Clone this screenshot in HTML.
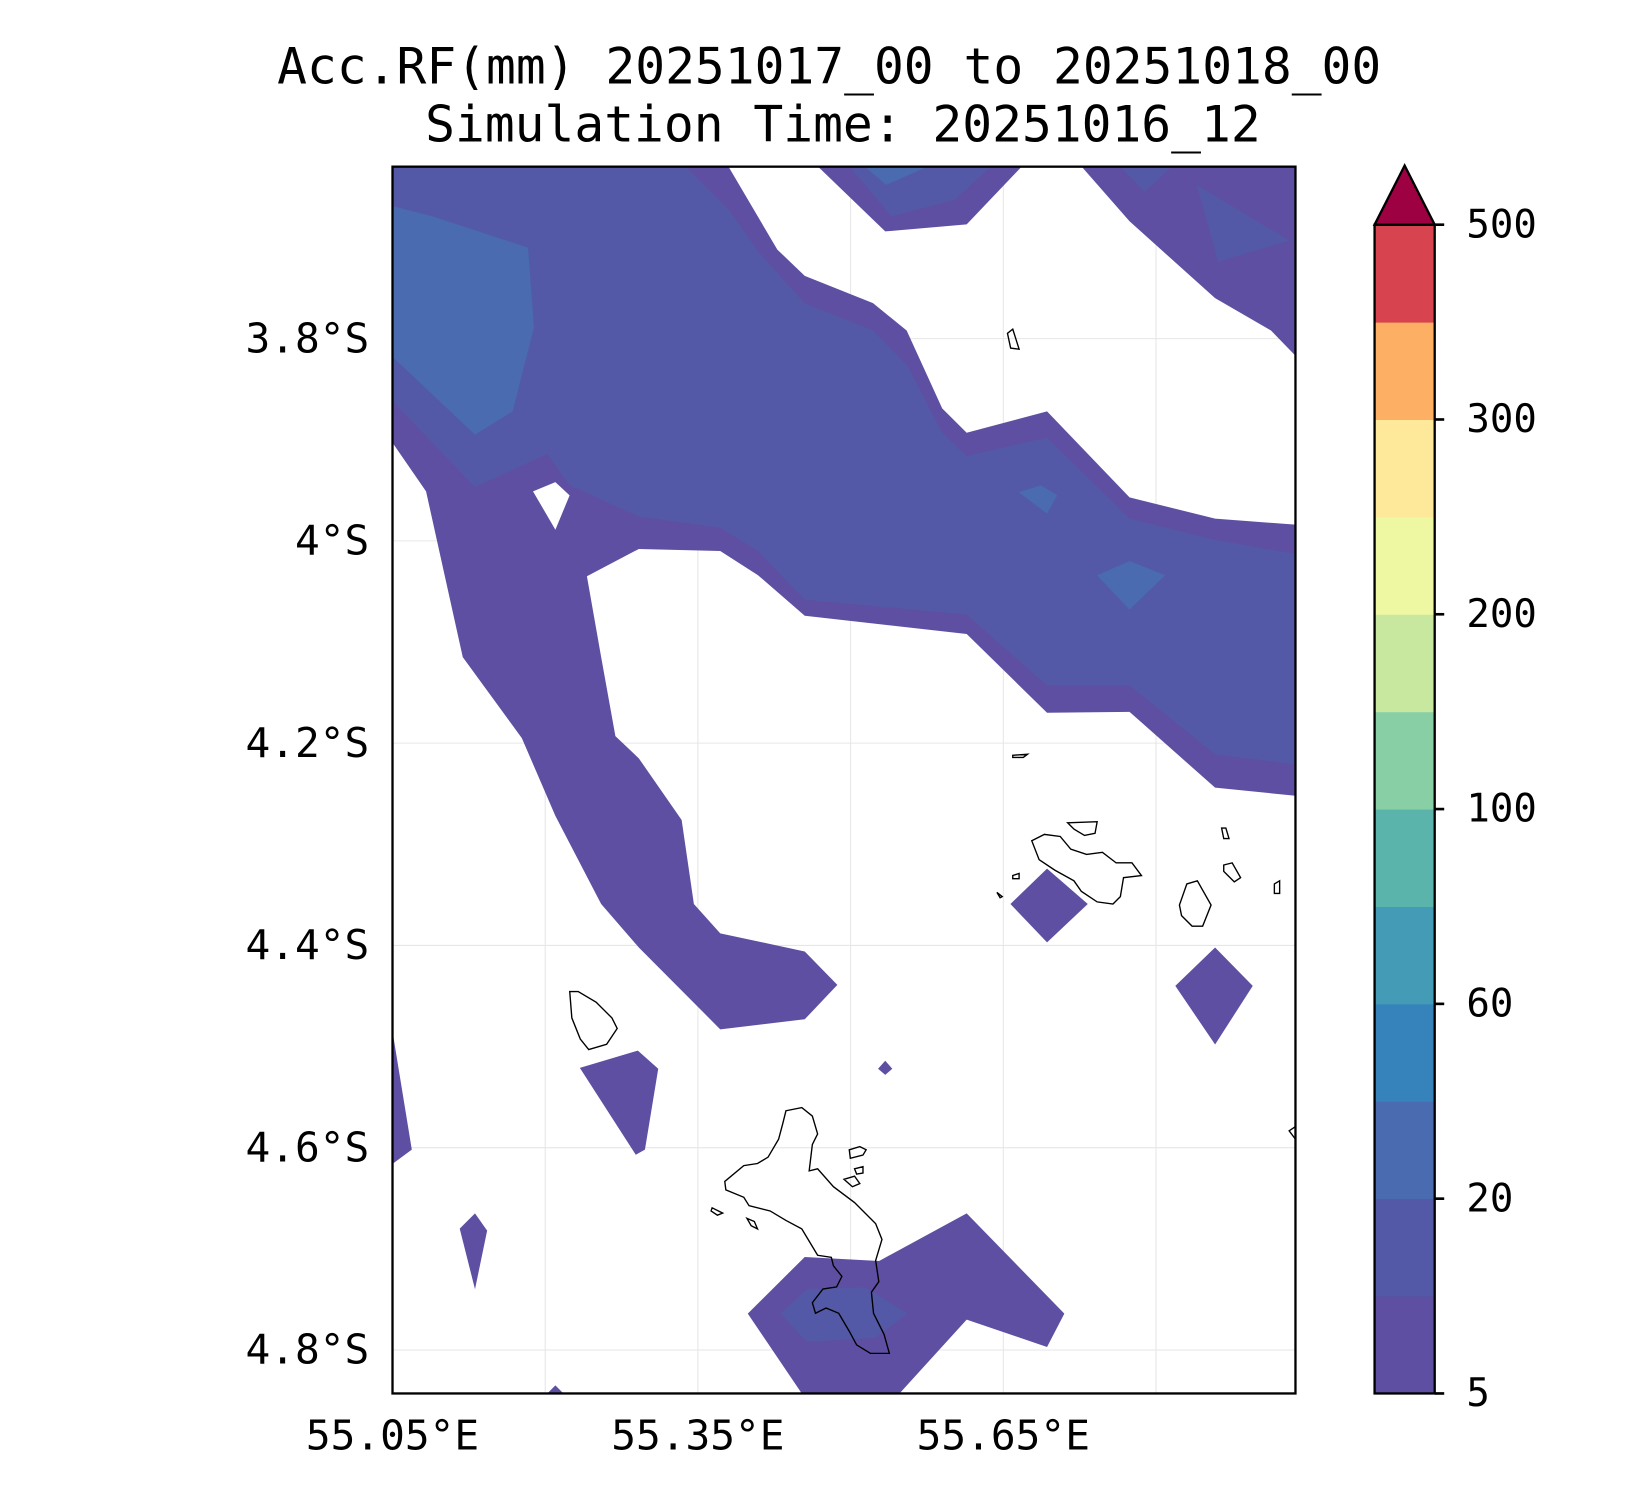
<!DOCTYPE html>
<html><head><meta charset="utf-8"><style>
html,body{margin:0;padding:0;background:#fff;}
svg{display:block;}
text{font-family:"DejaVu Sans Mono","Liberation Mono",monospace;fill:#000;}
</style></head><body>
<svg id="chart" xmlns="http://www.w3.org/2000/svg" width="1650" height="1500" viewBox="0 0 1564 1422">
<g id="title">
<text x="786" y="79" font-size="47" text-anchor="middle">Acc.RF(mm) 20251017_00 to 20251018_00</text>
<text x="799" y="134" font-size="47" text-anchor="middle">Simulation Time: 20251016_12</text>
</g>
<clipPath id="pc"><rect x="372" y="158" width="856" height="1163"/></clipPath>
<g id="grid"></g>
<g id="fills" clip-path="url(#pc)"></g>
<path id="coast" fill="none" stroke="#000" stroke-width="1.3" clip-path="url(#pc)" d="M745,1053 L760,1050 L770,1058 L775,1075 L770,1085 L767,1110 L775,1108 L790,1125 L810,1140 L830,1160 L836,1175 L830,1195 L833,1215 L826,1225 L828,1245 L838,1265 L843,1283 L825,1283 L812,1275 L805,1262 L795,1245 L783,1240 L773,1245 L770,1235 L780,1222 L793,1220 L798,1210 L790,1200 L788,1192 L775,1190 L760,1165 L745,1157 L730,1148 L710,1143 L705,1135 L688,1128 L687,1120 L705,1105 L718,1103 L728,1097 L738,1080 L742,1065 Z
M978,797 L990,791 L1005,793 L1015,805 L1030,810 L1045,808 L1058,818 L1073,818 L1082,830 L1065,832 L1062,850 L1055,857 L1040,855 L1025,845 L1018,835 L1000,825 L985,815 Z
M540,940 L548,940 L565,950 L580,965 L585,975 L575,990 L558,995 L550,985 L542,965 Z
M1012,780 L1040,779 L1038,790 L1028,792 L1018,786 Z
M1125,838 L1135,835 L1148,858 L1140,878 L1130,878 L1120,868 L1118,858 Z
M1160,820 L1168,818 L1176,832 L1170,836 L1160,826 Z
M955,316 L960,312 L966,331 L958,330 Z
M960,716 L974,715 L970,718 L960,718 Z
M960,830 L966,828 L966,833 L960,833 Z
M945,846 L950,850 L948,851 Z
M1158,785 L1162,785 L1165,795 L1160,795 Z
M1208,838 L1213,835 L1213,847 L1208,847 Z
M805,1090 L815,1087 L821,1090 L818,1095 L806,1098 Z
M800,1118 L810,1115 L815,1122 L808,1125 Z
M810,1108 L818,1106 L818,1112 L812,1113 Z
M708,1155 L715,1158 L718,1165 L712,1162 Z
M675,1145 L685,1150 L680,1152 L674,1148 Z
M1222,1072 L1228,1068 L1228,1080 Z"/>
<rect x="372" y="158" width="856" height="1163" fill="none" stroke="#000" stroke-width="2.2"/>
<g id="axes"></g>
<g id="cbar"></g>
</svg>
<script>
const NS="http://www.w3.org/2000/svg";
// map extent
const lonMin=55.05, lonMax=55.937, latMin=3.630, latMax=4.843;
// axis ticks
const lonTicks=[55.05,55.35,55.65];
const lonTickLabels=["55.05°E","55.35°E","55.65°E"];
const lonGrid=[55.05,55.20,55.35,55.50,55.65,55.80];
const latTicks=[3.8,4.0,4.2,4.4,4.6,4.8];
const latTickLabels=["3.8°S","4°S","4.2°S","4.4°S","4.6°S","4.8°S"];
// colorbar levels & colours
const levels=[5,10,20,40,60,80,100,150,200,250,300,400,500];
const levelColors=["#5e4fa2","#5359a6","#4a6bb0","#3682ba","#439bb5","#5ab4ac","#89cfa5","#c7e89e","#eef7a2","#fee99a","#fdb063","#d7434f"];
const extendColor="#9e0142";
const cbarTicks=[5,20,60,100,200,300,500];
// contour polygons [lon,lat(S)] by level index
const l1Main=[[55.050,3.630],[55.380,3.630],[55.428,3.712],[55.455,3.738],[55.522,3.765],[55.555,3.792],[55.590,3.869],[55.614,3.893],[55.693,3.872],[55.774,3.957],[55.858,3.978],[55.937,3.984],[55.937,4.252],[55.858,4.244],[55.774,4.169],[55.693,4.170],[55.614,4.092],[55.455,4.074],[55.409,4.034],[55.372,4.010],[55.292,4.008],[55.241,4.035],[55.255,4.115],[55.269,4.193],[55.292,4.215],[55.334,4.276],[55.346,4.359],[55.372,4.388],[55.455,4.406],[55.487,4.439],[55.455,4.473],[55.372,4.483],[55.292,4.402],[55.255,4.359],[55.210,4.272],[55.177,4.195],[55.119,4.115],[55.083,3.951],[55.050,3.903]];
const l1TopMid=[[55.468,3.630],[55.668,3.630],[55.614,3.687],[55.534,3.694]];
const l1TopRight=[[55.727,3.630],[55.937,3.630],[55.937,3.817],[55.913,3.792],[55.858,3.760],[55.774,3.684]];
const l1LeftEdge=[[55.050,4.485],[55.069,4.602],[55.050,4.616]];
const l1SmallA=[[55.116,4.680],[55.131,4.665],[55.143,4.682],[55.131,4.740]];
const l1SmallB=[[55.234,4.521],[55.291,4.504],[55.311,4.522],[55.298,4.602],[55.289,4.607]];
const l1SmallC=[[55.657,4.359],[55.693,4.324],[55.733,4.359],[55.693,4.397]];
const l1SmallD=[[55.819,4.440],[55.858,4.402],[55.895,4.440],[55.858,4.498]];
const l1SmallE=[[55.527,4.522],[55.534,4.514],[55.541,4.522],[55.534,4.528]];
const l1Bottom=[[55.399,4.764],[55.455,4.708],[55.528,4.712],[55.614,4.665],[55.710,4.764],[55.693,4.797],[55.614,4.770],[55.548,4.843],[55.452,4.843]];
const l1Tiny=[[55.202,4.843],[55.210,4.835],[55.218,4.843]];
const l2Main=[[55.050,3.630],[55.338,3.630],[55.380,3.672],[55.411,3.716],[55.455,3.765],[55.522,3.792],[55.556,3.827],[55.590,3.893],[55.614,3.916],[55.693,3.898],[55.774,3.978],[55.858,3.999],[55.937,4.013],[55.937,4.221],[55.858,4.211],[55.774,4.143],[55.693,4.143],[55.614,4.073],[55.455,4.058],[55.409,4.010],[55.372,3.987],[55.292,3.976],[55.224,3.945],[55.202,3.914],[55.131,3.947],[55.050,3.862]];
const l2TopMid=[[55.499,3.630],[55.638,3.630],[55.602,3.663],[55.540,3.679]];
const l2TopRight=[[55.840,3.648],[55.931,3.703],[55.861,3.724]];
const l2TopStrip=[[55.765,3.630],[55.815,3.630],[55.789,3.655]];
const l2Bottom=[[55.431,4.764],[55.457,4.740],[55.514,4.738],[55.556,4.764],[55.524,4.788],[55.457,4.792]];
const l3Blob=[[55.050,3.669],[55.089,3.679],[55.183,3.710],[55.189,3.789],[55.168,3.872],[55.131,3.895],[55.050,3.818]];
const l3SmallA=[[55.665,3.952],[55.687,3.945],[55.703,3.955],[55.693,3.973]];
const l3SmallB=[[55.742,4.034],[55.774,4.020],[55.809,4.034],[55.774,4.068]];
const l3TopMid=[[55.514,3.630],[55.576,3.630],[55.535,3.648]];
const holeA=[[55.188,3.951],[55.210,3.942],[55.224,3.955],[55.210,3.989]];

const X0=372,X1=1228,Y0=158,Y1=1321;
const xs=lon=>X0+(lon-lonMin)/(lonMax-lonMin)*(X1-X0);
const ys=lat=>Y0+(lat-latMin)/(latMax-latMin)*(Y1-Y0);
const svg=document.getElementById('chart');
function mk(tag,attrs,parent){const e=document.createElementNS(NS,tag);for(const k in attrs)e.setAttribute(k,attrs[k]);parent.appendChild(e);return e;}

// grid
const grid=document.getElementById('grid');
lonGrid.forEach(v=>{const l=mk('line',{x1:xs(v),x2:xs(v),y1:Y0,y2:Y1,stroke:'#e6e6e6','stroke-width':1},grid);

});
latTicks.forEach(v=>{const l=mk('line',{x1:X0,x2:X1,y1:ys(v),y2:ys(v),stroke:'#e6e6e6','stroke-width':1},grid);

});

// fills
const fills=document.getElementById('fills');
function poly(pts,color,name){const p=mk('polygon',{points:pts.map(q=>xs(q[0]).toFixed(1)+','+ys(q[1]).toFixed(1)).join(' '),fill:color},fills);

}
[[l1Main,'main'],[l1TopMid,'top-mid'],[l1TopRight,'top-right'],[l1LeftEdge,'left-edge'],[l1SmallA,'small-a'],[l1SmallB,'small-b'],[l1SmallC,'small-c'],[l1SmallD,'small-d'],[l1SmallE,'small-e'],[l1Bottom,'bottom'],[l1Tiny,'tiny']].forEach(a=>poly(a[0],levelColors[0],'contour-5-10-'+a[1]));
poly(holeA,'#ffffff','contour-hole');
[[l2Main,'main'],[l2TopMid,'top-mid'],[l2TopRight,'top-right'],[l2TopStrip,'top-strip'],[l2Bottom,'bottom']].forEach(a=>poly(a[0],levelColors[1],'contour-10-20-'+a[1]));
[[l3Blob,'blob'],[l3SmallA,'small-a'],[l3SmallB,'small-b'],[l3TopMid,'top-mid']].forEach(a=>poly(a[0],levelColors[2],'contour-20-40-'+a[1]));

// axes labels
const axes=document.getElementById('axes');
lonTicks.forEach((v,i)=>{const t=mk('text',{x:xs(v),y:1374,'font-size':39,'text-anchor':'middle'},axes);t.textContent=lonTickLabels[i];

});
latTicks.forEach((v,i)=>{const t=mk('text',{x:350,y:ys(v)+13,'font-size':39,'text-anchor':'end'},axes);t.textContent=latTickLabels[i];

});

// colorbar
const cb=document.getElementById('cbar');
const CX=1303,CW=57,CB=1321,CT=213;
const seg=(CB-CT)/levelColors.length;
levelColors.forEach((c,i)=>{const r=mk('rect',{x:CX,y:CB-(i+1)*seg,width:CW,height:seg+0.5,fill:c},cb);

});
const tri=mk('polygon',{points:`${CX},${CT} ${CX+CW/2},157 ${CX+CW},${CT}`,fill:extendColor,stroke:'#000','stroke-width':2.2},cb);


const fr=mk('rect',{x:CX,y:CT,width:CW,height:CB-CT,fill:'none',stroke:'#000','stroke-width':2.2},cb);


cbarTicks.forEach(v=>{const i=levels.indexOf(v);const y=CB-i*seg;
const l=mk('line',{x1:CX+CW,x2:CX+CW+9,y1:y,y2:y,stroke:'#000','stroke-width':2.5},cb);


const t=mk('text',{x:1390,y:y+12,'font-size':37},cb);t.textContent=v;

});
</script>
</body></html>
